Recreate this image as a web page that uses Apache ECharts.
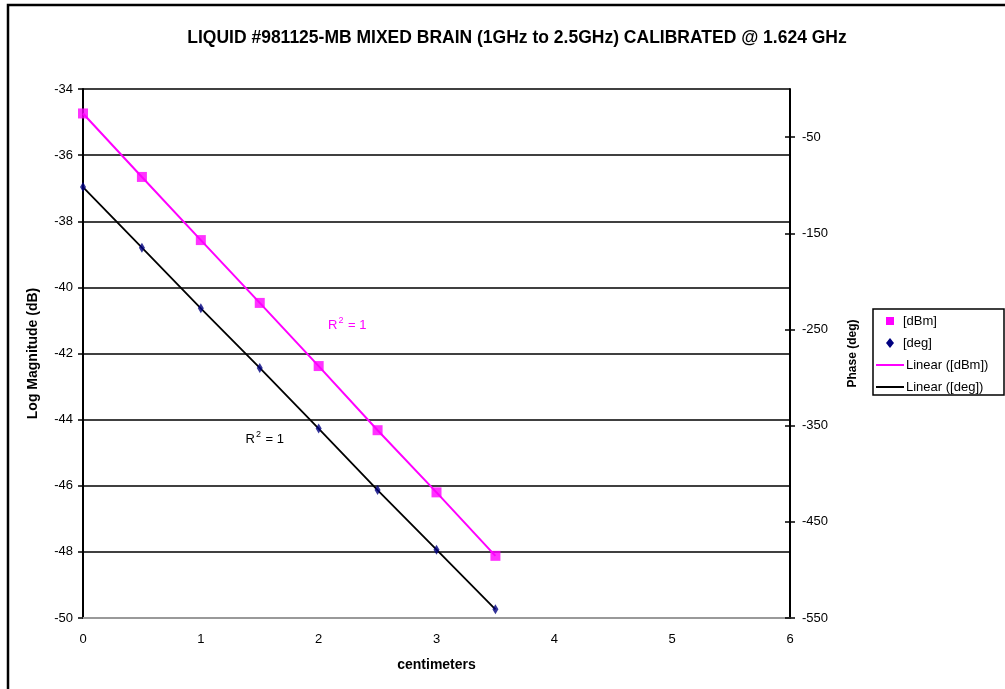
<!DOCTYPE html>
<html>
<head>
<meta charset="utf-8">
<script src="https://cdn.jsdelivr.net/npm/echarts@6/dist/echarts.min.js"></script>
<style>html,body{margin:0;padding:0;background:#fff;}#c{width:1005px;height:689px;}</style>
</head>
<body>
<div id="c"></div>
<script>
const centimeters = [0, 0.5, 1, 1.5, 2, 2.5, 3, 3.5];
const dBm = [-34.74, -36.66, -38.57, -40.47, -42.38, -44.32, -46.20, -48.12];
const deg = [-102, -165, -228, -290, -353, -417, -479, -541];
const leftTicks = [-50, -48, -46, -44, -42, -40, -38, -36, -34];
const rightTicks = [-550, -450, -350, -250, -150, -50];
const xTicks = [0, 1, 2, 3, 4, 5, 6];
const legendNames = ['[dBm]', '[deg]', 'Linear ([dBm])', 'Linear ([deg])'];
const r2Labels = [
  {x: 2.08, y: -41.1, color: '#FF00FF'},
  {x: 1.38, y: -44.55, color: '#000000'}
];

const font = 'Liberation Sans, Arial, sans-serif';
const dBmPts = centimeters.map((c, i) => [c, dBm[i]]);
const degPts = centimeters.map((c, i) => [c, deg[i]]);

const chart = echarts.init(document.getElementById('c'), null, {renderer: 'canvas'});
const option = {
  animation: false,
  backgroundColor: '#fff',
  textStyle: {fontFamily: font},
  title: {
    text: 'LIQUID #981125-MB MIXED BRAIN (1GHz to 2.5GHz) CALIBRATED @ 1.624 GHz',
    left: 512, top: 24, textAlign: 'center',
    textStyle: {fontFamily: font, fontSize: 17.5, fontWeight: 'bold', color: '#000'}
  },
  grid: {left: 83, right: 215, top: 89, bottom: 71, containLabel: false},
  xAxis: {
    type: 'value', min: xTicks[0], max: xTicks[xTicks.length - 1], interval: 1,
    name: 'centimeters', nameLocation: 'middle', nameGap: 40,
    nameTextStyle: {fontFamily: font, fontSize: 14, fontWeight: 'bold', color: '#000'},
    axisLine: {onZero: false, lineStyle: {color: '#999', width: 2}},
    axisTick: {show: false},
    axisLabel: {fontFamily: font, fontSize: 13, color: '#000', margin: 15},
    splitLine: {show: false}
  },
  yAxis: [
    {
      type: 'value', min: leftTicks[0], max: leftTicks[leftTicks.length - 1], interval: 2,
      position: 'left',
      name: 'Log Magnitude (dB)', nameLocation: 'middle', nameGap: 43,
      nameTextStyle: {fontFamily: font, fontSize: 14, fontWeight: 'bold', color: '#000'},
      axisLine: {show: true, lineStyle: {color: '#000', width: 2}},
      axisTick: {show: true, length: 5, lineStyle: {color: '#000', width: 1.5}},
      axisLabel: {fontFamily: font, fontSize: 13, color: '#000', margin: 10},
      splitLine: {show: true, lineStyle: {color: '#000', width: 1.5}}
    },
    {
      type: 'value', min: rightTicks[0], max: 0, interval: 100,
      position: 'right',
      name: 'Phase (deg)', nameLocation: 'middle', nameGap: 57,
      nameTextStyle: {fontFamily: font, fontSize: 12, fontWeight: 'bold', color: '#000'},
      axisLine: {show: true, lineStyle: {color: '#000', width: 2}},
      axisTick: {show: true, length: 5, lineStyle: {color: '#000', width: 1.5}, customValues: rightTicks},
      axisLabel: {fontFamily: font, fontSize: 13, color: '#000', margin: 12, customValues: rightTicks},
      splitLine: {show: false}
    },
    {
      type: 'value', min: rightTicks[0], max: 0, interval: 100,
      position: 'right',
      axisLine: {show: false},
      axisTick: {show: true, inside: true, length: 5, lineStyle: {color: '#000', width: 1.5}, customValues: rightTicks},
      axisLabel: {show: false},
      splitLine: {show: false}
    }
  ],
  series: [
    {
      name: legendNames[2], type: 'line', yAxisIndex: 0, data: dBmPts,
      symbol: 'none', lineStyle: {color: '#FF00FF', width: 2}, itemStyle: {color: '#FF00FF'}, z: 2
    },
    {
      name: legendNames[3], type: 'line', yAxisIndex: 1, data: degPts,
      symbol: 'none', lineStyle: {color: '#000000', width: 1.8}, itemStyle: {color: '#000000'}, z: 2
    },
    {
      name: legendNames[0], type: 'scatter', yAxisIndex: 0, data: dBmPts,
      symbol: 'rect', symbolSize: 10, itemStyle: {color: '#FF00FF'}, z: 3
    },
    {
      name: legendNames[1], type: 'scatter', yAxisIndex: 1, data: degPts,
      symbol: 'diamond', symbolSize: [6, 10], itemStyle: {color: '#000080'}, z: 3
    }
  ]
};
chart.setOption(option);

const g = [
  {type: 'rect', shape: {x: 8, y: 5, width: 1200, height: 900},
   style: {fill: 'none', stroke: '#000', lineWidth: 2.5}, silent: true, z: 100}
];
// legend box
const LX = 873, LY = 309;
g.push({type: 'rect', shape: {x: LX, y: LY, width: 131, height: 86},
  style: {fill: '#fff', stroke: '#000', lineWidth: 1.5}, z: 60});
const rowY = [LY + 12, LY + 34, LY + 56, LY + 78];
g.push({type: 'rect', shape: {x: 886, y: rowY[0] - 4, width: 8, height: 8}, style: {fill: '#FF00FF'}, z: 61});
g.push({type: 'polygon', shape: {points: [[890, rowY[1] - 5], [894, rowY[1]], [890, rowY[1] + 5], [886, rowY[1]]]}, style: {fill: '#000080'}, z: 61});
g.push({type: 'line', shape: {x1: 876, y1: rowY[2], x2: 904, y2: rowY[2]}, style: {stroke: '#FF00FF', lineWidth: 2}, z: 61});
g.push({type: 'line', shape: {x1: 876, y1: rowY[3], x2: 904, y2: rowY[3]}, style: {stroke: '#000', lineWidth: 2}, z: 61});
legendNames.forEach((n, i) => {
  g.push({type: 'text', x: i < 2 ? 903 : 906, y: rowY[i],
    style: {text: n, fill: '#000', font: '13px ' + font, textVerticalAlign: 'middle'}, z: 61});
});
r2Labels.forEach(l => {
  const p = chart.convertToPixel({xAxisIndex: 0, yAxisIndex: 0}, [l.x, l.y]);
  g.push({type: 'text', x: p[0], y: p[1],
    style: {
      text: '{a|R}{s|2}{a| = 1}',
      fill: l.color,
      textVerticalAlign: 'middle',
      rich: {
        a: {fontFamily: font, fontSize: 13, fill: l.color, color: l.color, lineHeight: 16, verticalAlign: 'bottom'},
        s: {fontFamily: font, fontSize: 9, fill: l.color, color: l.color, lineHeight: 16, verticalAlign: 'top', padding: [0, 1, 0, 1]}
      }
    }, z: 50});
});
chart.setOption({graphic: g});
</script>
</body>
</html>
